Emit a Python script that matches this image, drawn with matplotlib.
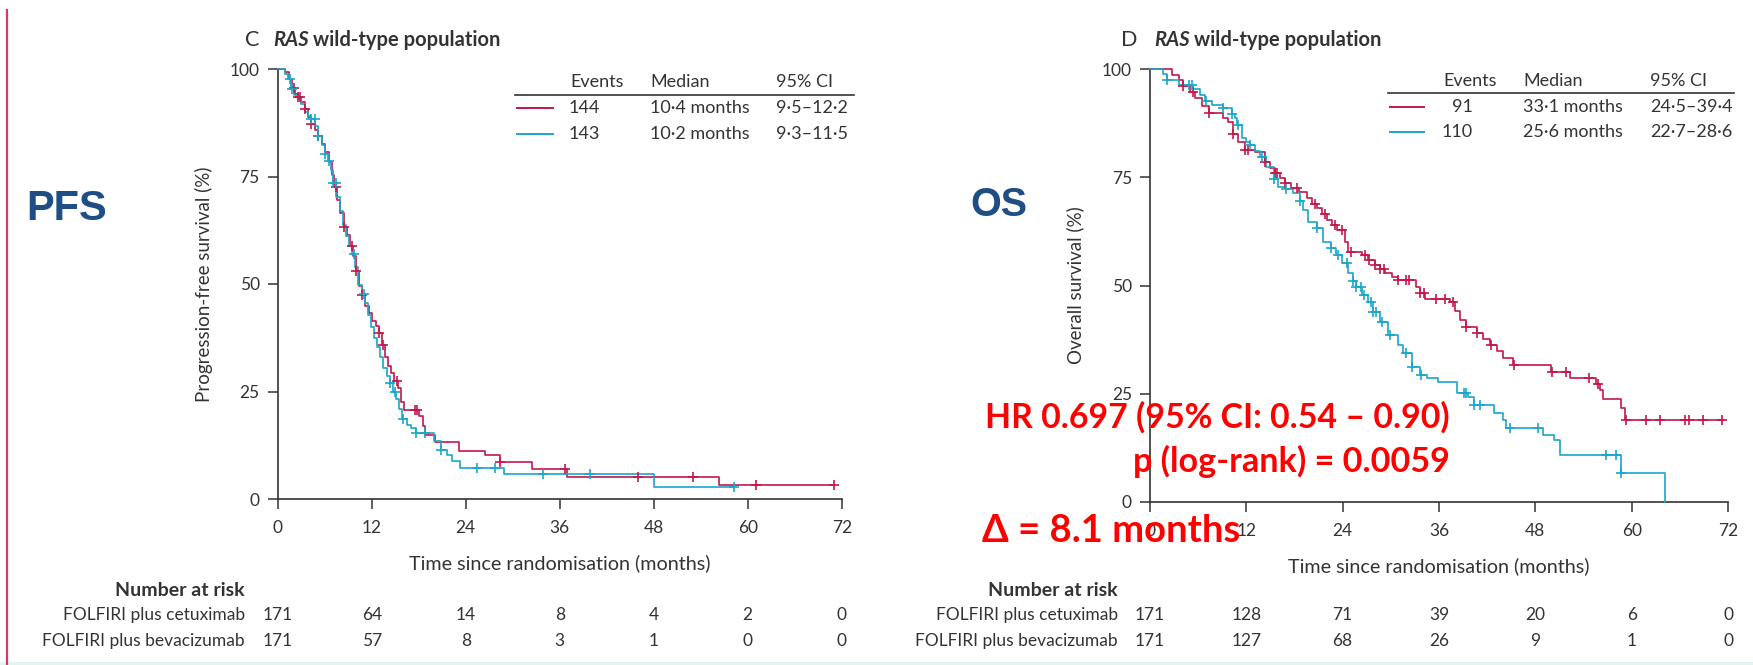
import numpy as np
import matplotlib
matplotlib.use("Agg")
import matplotlib.pyplot as plt
from matplotlib.lines import Line2D
from matplotlib.patches import Rectangle
from matplotlib.transforms import blended_transform_factory

W, H = 1753, 665
plt.rcParams['font.family'] = ['Lato', 'DejaVu Sans']

RED = "#c2184a"
CYAN = "#1ca6cb"
INK = "#333333"
ANNOT = "#ff0000"
NAVY = "#1f4e85"

# ---------------- Progression-free survival, RAS wild-type ----------------
pfs_cet_t = [0, 0.9, 1.4, 1.8, 2.2, 2.6, 3.0, 3.5, 3.9, 4.3, 4.8, 5.2, 5.7, 6.1, 6.5,
             6.9, 7.2, 7.6, 8.0, 8.4, 8.8, 9.2, 9.6, 10.0, 10.4, 10.8, 11.2, 11.6,
             12.0, 12.5, 12.9, 13.3, 13.7, 14.1, 14.5, 14.9, 15.3, 15.7, 16.1, 18.1,
             18.5, 18.8, 20.1, 23.1, 26.5, 28.4, 32.4, 36.9, 56.3]
pfs_cet_s = [100, 99.4, 97.7, 95.5, 94.2, 93.6, 92.3, 90.6, 88.9, 87.1, 85.9, 84.5,
             82.5, 80.7, 78.4, 75.4, 72.5, 69.6, 66.4, 63.2, 61.4, 58.8, 56.5, 53.0,
             49.6, 47.4, 45.0, 43.3, 41.5, 40.2, 38.6, 35.7, 33.0, 31.0, 29.2, 27.4,
             25.7, 22.5, 20.8, 19.3, 17.0, 14.9, 13.3, 11.1, 10.2, 8.7, 7.0, 5.1, 3.3]
pfs_cet_end = 71.0
pfs_cet_cens = [2.1, 2.6, 2.9, 3.5, 4.3, 5.2, 7.5, 8.4, 9.5, 10.0, 10.8, 12.9, 13.5,
                15.2, 17.5, 17.8, 28.4, 36.7, 46.0, 53.0, 61.0, 71.0]

pfs_bev_t = [0, 0.9, 1.3, 1.7, 2.1, 2.6, 3.0, 3.5, 3.9, 4.3, 4.8, 5.2, 5.6, 6.0, 6.4,
             6.8, 7.1, 7.5, 7.9, 8.3, 8.7, 9.1, 9.5, 9.9, 10.2, 10.7, 11.1, 11.5,
             11.9, 12.3, 12.7, 13.1, 13.5, 13.9, 14.3, 14.7, 15.1, 15.5, 15.9, 16.5,
             17.0, 17.6, 19.9, 20.9, 21.6, 22.3, 23.3, 28.9, 48.0]
pfs_bev_s = [100, 98.8, 97.7, 95.3, 94.0, 93.0, 91.8, 90.1, 89.1, 88.3, 86.8, 84.5,
             82.3, 80.2, 78.6, 76.5, 73.6, 70.2, 67.0, 63.7, 61.1, 58.9, 56.9, 54.0,
             49.8, 47.6, 45.6, 42.8, 40.0, 37.5, 35.3, 33.0, 30.5, 28.6, 26.9, 24.8,
             23.2, 21.0, 18.6, 17.3, 16.4, 15.4, 13.5, 11.5, 10.2, 8.9, 7.1, 5.8, 2.9]
pfs_bev_end = 58.2
pfs_bev_cens = [1.6, 1.8, 4.3, 4.7, 5.2, 6.0, 6.5, 7.1, 7.4, 9.7, 11.0, 14.3, 15.0,
                16.0, 17.7, 18.8, 20.9, 25.4, 27.7, 33.9, 39.9, 58.2]

# ---------------- Overall survival, RAS wild-type ----------------
os_cet_t = [0, 2.7, 3.6, 4.1, 5.0, 5.6, 6.5, 7.3, 9.1, 9.75, 10.4, 11.0, 11.8, 13.1,
            14.3, 15.0, 15.6, 16.2, 16.8, 17.6, 18.5, 19.5, 20.2, 20.8, 21.4, 22.0,
            22.7, 23.3, 24.3, 24.7, 26.4, 27.2, 28.0, 28.7, 29.3, 30.1, 30.9, 33.1,
            33.6, 34.2, 37.4, 38.0, 38.6, 39.4, 40.7, 41.5, 42.3, 43.2, 44.0, 45.2,
            50.0, 52.3, 55.5, 56.0, 56.4, 58.7, 59.2]
os_cet_s = [100, 98.6, 97.4, 96.0, 94.6, 93.2, 91.5, 89.8, 88.6, 87.8, 85.1, 83.2,
            81.3, 80.9, 78.6, 77.2, 75.9, 74.8, 73.6, 72.6, 71.7, 70.1, 68.9, 67.8,
            66.4, 65.1, 64.0, 62.8, 60.1, 57.8, 57.0, 55.9, 54.7, 53.8, 52.8, 52.0,
            51.3, 49.6, 48.2, 46.8, 46.3, 44.0, 42.0, 40.5, 39.0, 37.6, 36.3, 34.8,
            33.2, 31.6, 30.1, 28.6, 27.2, 25.9, 23.9, 21.6, 18.9]
os_cet_end = 71.4
os_cet_cens = [4.1, 5.4, 7.3, 10.4, 11.8, 12.2, 14.3, 15.6, 15.8, 16.8, 18.3, 20.6,
               21.8, 23.1, 23.9, 25.1, 26.8, 27.3, 28.0, 28.7, 29.2, 30.9, 31.9,
               32.3, 33.6, 34.1, 35.6, 36.8, 37.8, 39.4, 40.7, 42.5, 45.4, 50.1,
               51.8, 54.7, 55.8, 59.3, 61.8, 63.5, 66.6, 67.2, 68.9, 71.2]

os_bev_t = [0, 1.6, 2.1, 3.6, 5.4, 6.2, 6.85, 7.7, 9.1, 10.2, 10.6, 10.8, 11.4, 12.0,
            12.5, 13.1, 13.7, 14.5, 15.4, 16.0, 17.0, 17.8, 18.7, 19.1, 19.7, 20.8,
            21.6, 22.6, 23.2, 23.9, 24.7, 25.3, 25.6, 26.4, 27.2, 27.8, 28.6, 29.7,
            30.9, 31.5, 32.6, 33.6, 34.5, 35.9, 38.2, 39.6, 40.3, 42.8, 44.0, 44.4,
            49.0, 50.3, 51.1, 58.7, 64.1]
os_bev_s = [100, 98.8, 97.4, 96.2, 95.4, 94.0, 92.5, 91.7, 90.9, 89.7, 88.6, 87.1,
            84.0, 83.2, 82.4, 81.0, 79.7, 77.4, 74.7, 72.8, 72.4, 71.3, 69.4, 67.4,
            64.7, 63.2, 60.1, 58.6, 57.0, 55.1, 52.8, 51.0, 49.7, 47.8, 46.3, 43.9,
            41.6, 38.6, 36.3, 34.3, 31.2, 29.3, 28.6, 27.8, 25.1, 24.3, 22.4, 20.5,
            18.9, 17.0, 15.5, 14.3, 10.9, 6.6, 0.0]
os_bev_end = 64.1
os_bev_cens = [2.1, 4.8, 5.2, 7.0, 9.1, 10.2, 11.0, 12.5, 14.0, 15.4, 17.0, 18.7,
               20.8, 22.6, 23.4, 24.5, 25.3, 25.6, 26.3, 26.6, 27.5, 27.8, 28.2,
               28.9, 29.9, 31.9, 32.6, 33.7, 39.1, 39.4, 40.3, 41.1, 44.8, 48.3,
               56.8, 58.1, 58.7]

# Numbers at risk at 0, 12, ..., 72 months
risk_times = [0, 12, 24, 36, 48, 60, 72]
pfs_risk_cet = [171, 64, 14, 8, 4, 2, 0]
pfs_risk_bev = [171, 57, 8, 3, 1, 0, 0]
os_risk_cet = [171, 128, 71, 39, 20, 6, 0]
os_risk_bev = [171, 127, 68, 26, 9, 1, 0]

arm_labels = ["FOLFIRI plus cetuximab", "FOLFIRI plus bevacizumab"]
pfs_legend = [("144", "10·4 months", "9·5–12·2"), ("143", "10·2 months", "9·3–11·5")]
os_legend = [("91", "33·1 months", "24·5–39·4"), ("110", "25·6 months", "22·7–28·6")]

fig = plt.figure(figsize=(W / 100, H / 100), dpi=100)
fig.patch.set_facecolor("white")


def fx(x):
    return x / W


def fy(y):
    return 1 - y / H


def km(ax, t, s, end, cens, color):
    t = np.asarray(t, float)
    s = np.asarray(s, float)
    tt = np.r_[t, end]
    ss = np.r_[s, s[-1]]
    ax.step(tt, ss, where="post", color=color, lw=1.2, clip_on=False, zorder=3)
    c = np.asarray(cens, float)
    idx = np.searchsorted(t, c, side="right") - 1
    ax.plot(c, s[idx], ls="none", marker="+", ms=7, mew=1.2, color=color,
            clip_on=False, zorder=4)


def style_axes(ax, ylabel, ylabel_x):
    ax.set_xlim(0, 72)
    ax.set_ylim(0, 100)
    ax.set_xticks(risk_times)
    ax.set_yticks([0, 25, 50, 75, 100])
    for side in ("top", "right"):
        ax.spines[side].set_visible(False)
    for side in ("left", "bottom"):
        ax.spines[side].set_color(INK)
        ax.spines[side].set_linewidth(1.2)
    ax.tick_params(direction="out", length=7, width=1.1, color=INK,
                   labelcolor=INK, labelsize=12.5)
    ax.tick_params(axis="y", pad=6)
    ax.tick_params(axis="x", pad=8)
    ax.set_facecolor("none")
    ax.set_ylabel(ylabel, fontsize=13.5, color=INK, va="center")
    ax.yaxis.set_label_coords(ylabel_x, 0.5)
    ax.set_xlabel("Time since randomisation (months)", fontsize=14.2, color=INK,
                  labelpad=13)


def legend_table(cols, line_x, ev_right, header_y, rule, rows_y, entries):
    for lab, x in zip(["Events", "Median", "95% CI"], cols):
        fig.text(fx(x), fy(header_y), lab, fontsize=13, color=INK,
                 ha="left", va="center")
    fig.add_artist(Line2D([fx(rule[0]), fx(rule[1])], [fy(rule[2])] * 2,
                          color=INK, lw=1.2, transform=fig.transFigure))
    for (ev, med, ci), y, col in zip(entries, rows_y, [RED, CYAN]):
        fig.add_artist(Line2D([fx(line_x[0]), fx(line_x[1])], [fy(y)] * 2,
                              color=col, lw=1.4, transform=fig.transFigure))
        fig.text(fx(ev_right), fy(y), ev, fontsize=13, color=INK, ha="right", va="center")
        fig.text(fx(cols[1]), fy(y), med, fontsize=13, color=INK, ha="left", va="center")
        fig.text(fx(cols[2]), fy(y), ci, fontsize=13, color=INK, ha="left", va="center")


def risk_table(ax, label_right, rows):
    tr = blended_transform_factory(ax.transData, fig.transFigure)
    fig.text(fx(label_right), fy(591), "Number at risk", fontsize=14,
             fontweight="bold", color=INK, ha="right", va="center")
    for lab, vals, y in zip(arm_labels, rows, [615, 641]):
        fig.text(fx(label_right), fy(y), lab, fontsize=12.5, color=INK,
                 ha="right", va="center")
        for t, v in zip(risk_times, vals):
            ax.text(t, fy(y), str(v), transform=tr, fontsize=12.5, color=INK,
                    ha="center", va="center", clip_on=False)


def panel_title(letter, lx, rx, wx):
    fig.text(fx(lx), fy(40), letter, fontsize=15.5, color=INK, ha="left", va="center")
    fig.text(fx(rx), fy(40), "RAS", fontsize=14.5, fontweight="bold",
             style="italic", color=INK, ha="left", va="center")
    fig.text(fx(wx), fy(40), "wild-type population", fontsize=14.5,
             fontweight="bold", color=INK, ha="left", va="center")


# ---- left panel: PFS ----
ax1 = fig.add_axes([fx(277.7), fy(499), 564 / W, 430 / H])
style_axes(ax1, "Progression-free survival (%)", -0.13)
km(ax1, pfs_cet_t, pfs_cet_s, pfs_cet_end, pfs_cet_cens, RED)
km(ax1, pfs_bev_t, pfs_bev_s, pfs_bev_end, pfs_bev_cens, CYAN)
panel_title("C", 245, 273, 313)
legend_table([570, 650, 776], (517, 553), 600, 82, (515, 854, 94.5), [108, 134],
             pfs_legend)
risk_table(ax1, 245, [pfs_risk_cet, pfs_risk_bev])

# ---- right panel: OS ----
ax2 = fig.add_axes([fx(1150), fy(502), 578 / W, 433 / H])
style_axes(ax2, "Overall survival (%)", -0.129)
km(ax2, os_cet_t, os_cet_s, os_cet_end, os_cet_cens, RED)
km(ax2, os_bev_t, os_bev_s, os_bev_end, os_bev_cens, CYAN)
panel_title("D", 1121, 1154, 1194)
legend_table([1443, 1523, 1650], (1390, 1424), 1473, 81, (1388, 1734, 93), [107, 132],
             os_legend)
risk_table(ax2, 1118, [os_risk_cet, os_risk_bev])

# ---- endpoint labels and OS statistics ----
fig.text(fx(26), fy(209), "PFS", fontsize=30, fontweight="bold", color=NAVY,
         family=["Liberation Sans", "DejaVu Sans"], ha="left", va="center")
fig.text(fx(970), fy(205), "OS", fontsize=28.5, fontweight="bold", color=NAVY,
         family=["Liberation Sans", "DejaVu Sans"], ha="left", va="center")

fig.text(fx(1450), fy(417), "HR 0.697 (95% CI: 0.54 – 0.90)", fontsize=24.4,
         fontweight="bold", color=ANNOT, ha="right", va="center", zorder=10)
fig.text(fx(1450), fy(461), "p (log-rank) = 0.0059", fontsize=24.6,
         fontweight="bold", color=ANNOT, ha="right", va="center", zorder=10)
fig.text(fx(982), fy(531), "Δ = 8.1 months", fontsize=27.5,
         fontweight="bold", color=ANNOT, ha="left", va="center", zorder=10)

# page furniture: left margin rule and bottom band
fig.add_artist(Line2D([fx(6.5), fx(6.5)], [fy(10), fy(665)], color="#d23a68",
                      lw=1.6, transform=fig.transFigure))
fig.add_artist(Rectangle((0, 0), 1, 3 / H, transform=fig.transFigure,
                         color="#e2f4f2", lw=0))

fig.savefig("out.png", dpi=100)
